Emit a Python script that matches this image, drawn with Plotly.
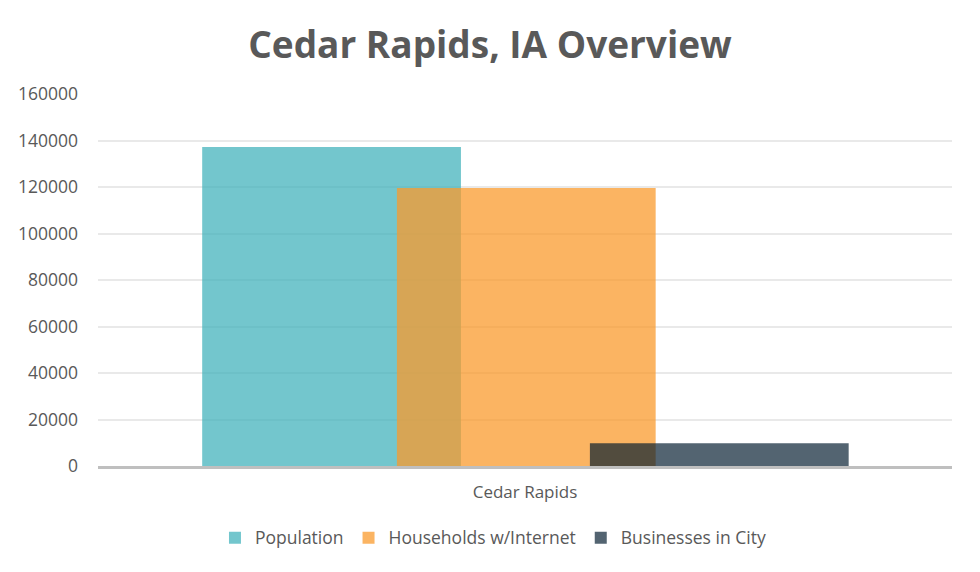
import plotly.graph_objects as go

categories = ["Cedar Rapids"]
series_names = ["Population", "Households w/Internet", "Businesses in City"]
population = [137200]
households = [119600]
businesses = [9800]

colors = ["rgba(66,178,188,0.74)", "rgba(249,154,43,0.74)", "rgba(2,27,45,0.68)"]
offsets = [-0.378, -0.150, 0.076]
width = 0.303

fig = go.Figure()
for name, vals, c, off in zip(series_names, [population, households, businesses], colors, offsets):
    fig.add_trace(go.Bar(
        x=categories, y=vals, name=name,
        marker=dict(color=c, line=dict(width=0)),
        width=width, offset=off,
    ))

fig.update_layout(
    width=980, height=572,
    margin=dict(l=98, r=28, t=94, b=106),
    paper_bgcolor="white", plot_bgcolor="white",
    barmode="overlay",
    title=dict(text="<b>Cedar Rapids, IA Overview</b>", x=0.5, xanchor="center",
               y=1 - 45/572, yanchor="middle",
               font=dict(family="Open Sans", size=37, color="#595959")),
    font=dict(family="Open Sans", color="#595959"),
    showlegend=True,
    legend=dict(orientation="h", x=0.4625, xanchor="center",
                y=-0.193, yanchor="middle",
                font=dict(size=17.5, color="#595959"), itemwidth=30, traceorder="normal"),
    xaxis=dict(showgrid=False, showline=True, linecolor="#BFBFBF", linewidth=2.5,
               tickfont=dict(size=17, color="#595959"), ticks="", range=[-0.5, 0.5],
               ticklabelstandoff=9),
    yaxis=dict(range=[0, 160000], dtick=20000, showgrid=True, gridcolor="#E9E9E9", gridwidth=1.5,
               tickfont=dict(size=17.5, color="#595959"), tickformat="d", zeroline=False,
               ticks="", ticklabelstandoff=19),
)

fig.write_html("out.html")
